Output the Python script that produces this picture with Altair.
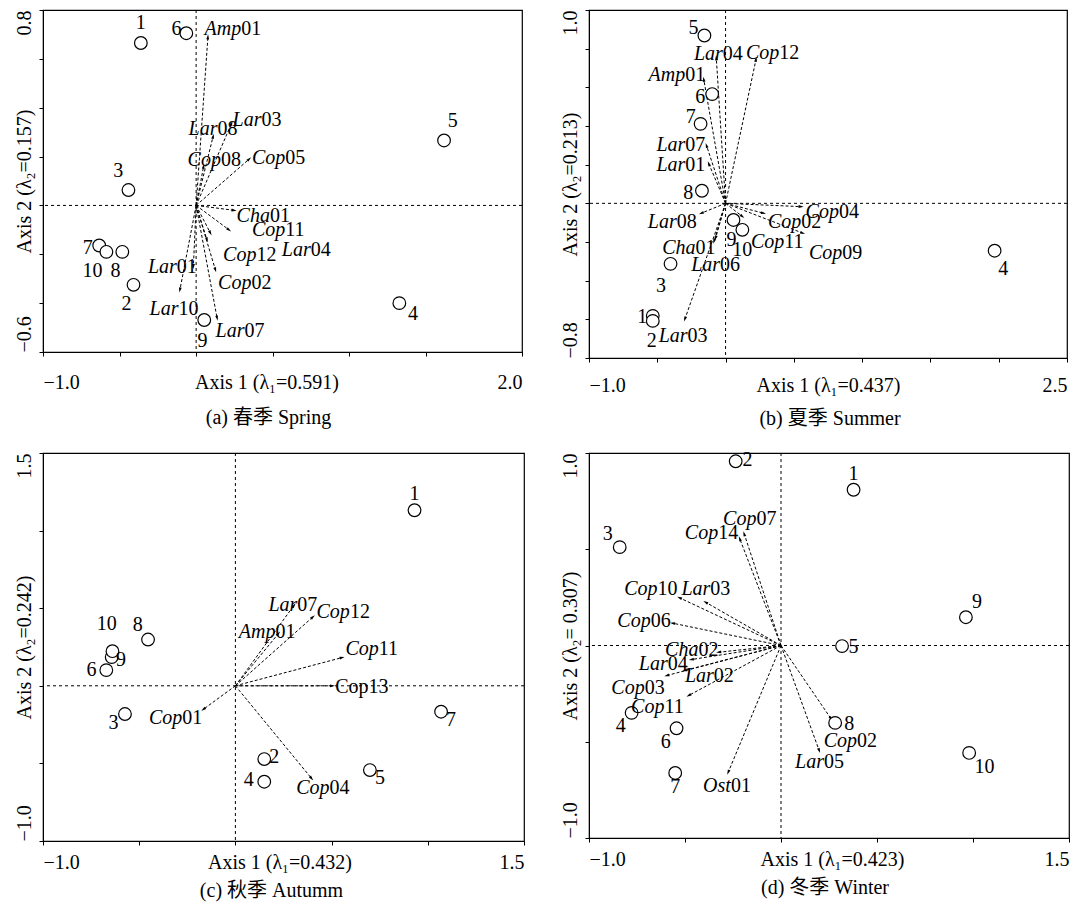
import math
import altair as alt
import pandas as pd

SERIF = "Liberation Serif"
CAPTION_FONT = "Liberation Serif, Noto Sans CJK SC"
HEAD = "M0,-1L0.55,1L-0.55,1Z"

SITE_IDS = ["1", "2", "3", "4", "5", "6", "7", "8", "9", "10"]

# ---------------- (a) Spring ----------------
a_site_x = [-0.361, -0.409, -0.442, 1.327, 1.619, -0.064, -0.633, -0.482, 0.053, -0.586]
a_site_y = [0.665, -0.325, 0.063, -0.400, 0.266, 0.705, -0.164, -0.190, -0.469, -0.190]
a_site_lx = [-0.361, -0.454, -0.509, 1.416, 1.675, -0.128, -0.708, -0.527, 0.042, -0.677]
a_site_ly = [0.747, -0.403, 0.139, -0.445, 0.344, 0.723, -0.175, -0.270, -0.557, -0.270]
a_species = ["Amp01", "Lar08", "Lar03", "Cop08", "Cop05", "Cha01", "Cop11", "Lar04",
             "Cop12", "Lar01", "Cop02", "Lar10", "Lar07"]
a_sp_x = [0.077, 0.111, 0.232, 0.049, 0.347, 0.248, 0.215, 0.093, 0.071, -0.018, 0.126, -0.106, 0.137]
a_sp_y = [0.690, 0.283, 0.337, 0.160, 0.190, -0.020, -0.100, -0.113, -0.141, -0.250, -0.264, -0.346, -0.462]
a_sp_lx = [0.294, 0.139, 0.427, 0.162, 0.582, 0.482, 0.582, 0.748, 0.394, -0.126, 0.361, -0.115, 0.316]
a_sp_ly = [0.723, 0.313, 0.351, 0.187, 0.194, -0.045, -0.100, -0.182, -0.202, -0.250, -0.318, -0.425, -0.516]
a_xdomain = [-1.0, 2.128]
a_ydomain = [-0.6, 0.8]
a_xticks = [-1.0, -0.5, 0.0, 0.5, 1.0, 1.5, 2.128]
a_yticks = [-0.6, -0.4, -0.2, 0.0, 0.2, 0.4, 0.6, 0.8]
a_xlabels = ["−1.0", "2.0"]
a_ylabels = ["−0.6", "0.8"]
a_xtitle = "Axis 1 (λ₁=0.591)"
a_ytitle = "Axis 2 (λ₂=0.157)"
a_caption = "(a) 春季 Spring"

# ---------------- (b) Summer ----------------
b_site_x = [-0.533, -0.533, -0.403, 1.970, -0.155, -0.098, -0.183, -0.173, 0.058, 0.123]
b_site_y = [-0.582, -0.608, -0.313, -0.245, 0.868, 0.565, 0.411, 0.065, -0.086, -0.137]
b_site_lx = [-0.610, -0.540, -0.473, 2.033, -0.235, -0.185, -0.255, -0.273, 0.043, 0.123]
b_site_ly = [-0.587, -0.711, -0.425, -0.342, 0.908, 0.548, 0.445, 0.051, -0.188, -0.243]
b_species = ["Lar04", "Cop12", "Amp01", "Lar07", "Lar01", "Lar08", "Cha01", "Lar06",
             "Lar03", "Cop04", "Cop02", "Cop11", "Cop09"]
b_sp_x = [-0.068, 0.223, -0.160, -0.140, -0.123, -0.178, -0.085, -0.073, -0.298, 0.553, 0.278, 0.123, 0.565]
b_sp_y = [0.753, 0.745, 0.642, 0.300, 0.205, -0.051, -0.197, -0.180, -0.599, -0.017, -0.051, -0.068, -0.154]
b_sp_lx = [-0.020, 0.393, -0.295, -0.295, -0.295, -0.358, -0.220, -0.040, -0.278, 0.830, 0.555, 0.430, 0.855]
b_sp_ly = [0.771, 0.779, 0.664, 0.300, 0.197, -0.099, -0.231, -0.317, -0.685, -0.043, -0.094, -0.202, -0.257]
b_xdomain = [-1.0, 2.5]
b_ydomain = [-0.8, 1.0]
b_xticks = [-1.0, -0.5, 0.0, 0.5, 1.0, 1.5, 2.0, 2.5]
b_yticks = [-0.8, -0.6, -0.4, -0.2, 0.0, 0.2, 0.4, 0.6, 0.8, 1.0]
b_xlabels = ["−1.0", "2.5"]
b_ylabels = ["−0.8", "1.0"]
b_xtitle = "Axis 1 (λ₁=0.437)"
b_ytitle = "Axis 2 (λ₂=0.213)"
b_caption = "(b) 夏季 Summer"

# ---------------- (c) Autumn ----------------
c_site_x = [0.931, 0.150, -0.574, 0.150, 0.699, -0.671, 1.069, -0.454, -0.643, -0.639]
c_site_y = [1.131, -0.472, -0.182, -0.618, -0.543, 0.101, -0.167, 0.298, 0.185, 0.223]
c_site_lx = [0.931, 0.202, -0.634, 0.069, 0.752, -0.748, 1.121, -0.507, -0.595, -0.669]
c_site_ly = [1.238, -0.457, -0.242, -0.607, -0.597, 0.105, -0.221, 0.391, 0.165, 0.401]
c_species = ["Lar07", "Cop12", "Amp01", "Cop11", "Cop13", "Cop01", "Cop04"]
c_sp_x = [0.305, 0.403, 0.224, 0.555, 0.505, -0.167, 0.396]
c_sp_y = [0.519, 0.444, 0.337, 0.182, 0.000, -0.152, -0.597]
c_sp_lx = [0.322, 0.595, 0.208, 0.745, 0.692, -0.276, 0.489]
c_sp_ly = [0.519, 0.476, 0.348, 0.240, -0.006, -0.210, -0.661]
c_upright = ["Cop13"]
c_xdomain = [-1.0, 1.5]
c_ydomain = [-1.0, 1.5]
c_xticks = [-1.0, -0.5, 0.0, 0.5, 1.0, 1.5]
c_yticks = [-1.0, -0.5, 0.0, 0.5, 1.0, 1.5]
c_xlabels = ["−1.0", "1.5"]
c_ylabels = ["−1.0", "1.5"]
c_xtitle = "Axis 1 (λ₁=0.432)"
c_ytitle = "Axis 2 (λ₂=0.242)"
c_caption = "(c) 秋季 Autumm"

# ---------------- (d) Winter ----------------
d_site_x = [0.378, -0.236, -0.840, -0.778, 0.318, -0.544, -0.551, 0.282, 0.963, 0.980]
d_site_y = [0.809, 0.957, 0.511, -0.350, -0.003, -0.430, -0.662, -0.402, 0.147, -0.558]
d_site_lx = [0.378, -0.174, -0.902, -0.835, 0.377, -0.600, -0.551, 0.355, 1.021, 1.060]
d_site_ly = [0.893, 0.962, 0.581, -0.419, -0.009, -0.503, -0.737, -0.407, 0.225, -0.633]
d_species = ["Cop07", "Cop14", "Cop10", "Lar03", "Cop06", "Cha02", "Lar04", "Lar02",
             "Cop03", "Cop11", "Ost01", "Lar05", "Cop02"]
d_sp_x = [-0.192, -0.215, -0.529, -0.393, -0.565, -0.325, -0.467, -0.503, -0.595, -0.481, -0.275, 0.199, 0.261]
d_sp_y = [0.581, 0.555, 0.248, 0.225, 0.116, -0.035, -0.073, -0.130, -0.156, -0.260, -0.659, -0.546, -0.381]
d_sp_lx = [-0.128, -0.327, -0.643, -0.368, -0.679, -0.430, -0.590, -0.350, -0.710, -0.607, -0.261, 0.224, 0.396]
d_sp_ly = [0.655, 0.586, 0.291, 0.291, 0.127, -0.021, -0.095, -0.156, -0.222, -0.321, -0.728, -0.607, -0.494]
d_xdomain = [-1.0, 1.5]
d_ydomain = [-1.0, 1.0]
d_xticks = [-1.0, -0.5, 0.0, 0.5, 1.0, 1.5]
d_yticks = [-1.0, -0.5, 0.0, 0.5, 1.0]
d_xlabels = ["−1.0", "1.5"]
d_ylabels = ["−1.0", "1.0"]
d_xtitle = "Axis 1  (λ₁=0.423)"
d_ytitle = "Axis 2 (λ₂= 0.307)"
d_caption = "(d) 冬季 Winter"


def end_label_expr(lo, hi, lab_lo, lab_hi):
    return (f"datum.value <= {lo + 1e-6} ? '{lab_lo}' : "
            f"(datum.value >= {hi - 1e-6} ? '{lab_hi}' : '')")


def end_align(lo):
    return {"condition": {"test": f"datum.value <= {lo + 1e-6}", "value": "left"},
            "value": "right"}


def panel(site_x, site_y, site_lx, site_ly, species, sp_x, sp_y, sp_lx, sp_ly,
          xdom, ydom, xticks, yticks, xlabs, ylabs, xtitle, ytitle, caption,
          width, height, upright=(), xtitle_dx=0, lab_y=29, cap_off=16, cap_dx=0):
    kx = width / (xdom[1] - xdom[0])
    ky = height / (ydom[1] - ydom[0])
    site_df = pd.DataFrame({"id": SITE_IDS, "x": site_x, "y": site_y,
                            "lx": site_lx, "ly": site_ly})
    sp_df = pd.DataFrame({"name": species, "tx": sp_x, "ty": sp_y,
                          "lx": sp_lx, "ly": sp_ly})
    sp_df["ox"] = 0.0
    sp_df["oy"] = 0.0
    sp_df["pre"] = sp_df["name"].str[:-2]
    sp_df["num"] = sp_df["name"].str[-2:]
    sp_df["ang"] = [(math.degrees(math.atan2(a * kx, b * ky)) + 360.0) % 360.0
                    for a, b in zip(sp_x, sp_y)]
    sp_df["it"] = [n not in upright for n in species]

    common = dict(grid=False, domainColor="black", tickColor="black", labelColor="black",
                  titleColor="black", labelFont=SERIF, labelFontSize=20, titleFont=SERIF,
                  titleFontSize=20, titleFontWeight="normal", tickSize=4, labelFlush=False,
                  labelOverlap=False, labelBound=False, domainWidth=1, tickWidth=1)
    xax = alt.Axis(values=xticks, title=xtitle,
                   labelExpr=end_label_expr(xdom[0], xdom[1], xlabs[0], xlabs[1]),
                   labelAlign=end_align(xdom[0]), labelBaseline="middle",
                   labelPadding=lab_y - 4, titleY=lab_y, titleX=width / 2 + xtitle_dx,
                   titleBaseline="middle", titleAlign="center", **common)
    yax = alt.Axis(values=yticks, title=ytitle,
                   labelExpr=end_label_expr(ydom[0], ydom[1], ylabs[0], ylabs[1]),
                   labelAlign=end_align(ydom[0]), labelBaseline="middle", labelAngle=270,
                   labelPadding=15, titleAngle=270, titleX=-19, titleY=height / 2,
                   titleBaseline="middle", titleAlign="center", **common)
    xs = alt.Scale(domain=xdom, nice=False, zero=False)
    ys = alt.Scale(domain=ydom, nice=False, zero=False)

    def X(f):
        return alt.X(f, type="quantitative", scale=xs, axis=xax)

    def Y(f):
        return alt.Y(f, type="quantitative", scale=ys, axis=yax)

    zero = pd.DataFrame({"z": [0.0]})
    vline = alt.Chart(zero).mark_rule(color="black", strokeDash=[3, 3], strokeWidth=1).encode(x=X("z"))
    hline = alt.Chart(zero).mark_rule(color="black", strokeDash=[3, 3], strokeWidth=1).encode(y=Y("z"))
    arrows = alt.Chart(sp_df).mark_rule(color="black", strokeDash=[3, 2], strokeWidth=1).encode(
        x=X("ox"), y=Y("oy"), x2="tx:Q", y2="ty:Q")
    heads = alt.Chart(sp_df).mark_point(shape=HEAD, filled=True, color="black", size=26,
                                        opacity=1).encode(
        x=X("tx"), y=Y("ty"), angle=alt.Angle("ang:Q", scale=None))
    circles = alt.Chart(site_df).mark_point(shape="circle", fill="white", fillOpacity=1,
                                            stroke="black", strokeWidth=1.2, size=160,
                                            opacity=1).encode(x=X("x"), y=Y("y"))
    site_txt = alt.Chart(site_df).mark_text(font=SERIF, fontSize=20, color="black",
                                            align="center", baseline="middle").encode(
        x=X("lx"), y=Y("ly"), text="id:N")
    pre_it = alt.Chart(sp_df).transform_filter("datum.it").mark_text(
        font=SERIF, fontSize=20, color="black", align="right", baseline="middle",
        fontStyle="italic").encode(x=X("lx"), y=Y("ly"), text="pre:N")
    pre_up = alt.Chart(sp_df).transform_filter("!datum.it").mark_text(
        font=SERIF, fontSize=20, color="black", align="right", baseline="middle").encode(
        x=X("lx"), y=Y("ly"), text="pre:N")
    nums = alt.Chart(sp_df).mark_text(font=SERIF, fontSize=20, color="black", align="left",
                                      baseline="middle").encode(
        x=X("lx"), y=Y("ly"), text="num:N")

    return alt.layer(vline, hline, arrows, heads, circles, site_txt, pre_it, pre_up, nums).properties(
        width=width, height=height,
        title=alt.TitleParams(text=caption, orient="bottom", frame="group", anchor="middle",
                              offset=cap_off, dx=cap_dx, font=CAPTION_FONT, fontSize=20,
                              fontWeight="normal", color="black"))


pa = panel(a_site_x, a_site_y, a_site_lx, a_site_ly, a_species, a_sp_x, a_sp_y, a_sp_lx, a_sp_ly,
           a_xdomain, a_ydomain, a_xticks, a_yticks, a_xlabels, a_ylabels, a_xtitle, a_ytitle,
           a_caption, 479, 342, xtitle_dx=-16, lab_y=30, cap_off=16, cap_dx=-14)
pb = panel(b_site_x, b_site_y, b_site_lx, b_site_ly, b_species, b_sp_x, b_sp_y, b_sp_lx, b_sp_ly,
           b_xdomain, b_ydomain, b_xticks, b_yticks, b_xlabels, b_ylabels, b_xtitle, b_ytitle,
           b_caption, 478, 348, xtitle_dx=0, lab_y=27, cap_off=14, cap_dx=2)
pc = panel(c_site_x, c_site_y, c_site_lx, c_site_ly, c_species, c_sp_x, c_sp_y, c_sp_lx, c_sp_ly,
           c_xdomain, c_ydomain, c_xticks, c_yticks, c_xlabels, c_ylabels, c_xtitle, c_ytitle,
           c_caption, 481, 388, upright=c_upright, xtitle_dx=-4, lab_y=21, cap_off=9, cap_dx=-12)
pd_ = panel(d_site_x, d_site_y, d_site_lx, d_site_ly, d_species, d_sp_x, d_sp_y, d_sp_lx, d_sp_ly,
            d_xdomain, d_ydomain, d_xticks, d_yticks, d_xlabels, d_ylabels, d_xtitle, d_ytitle,
            d_caption, 480, 385, xtitle_dx=3, lab_y=21, cap_off=9, cap_dx=-4)

chart = alt.concat(pa, pb, pc, pd_, columns=2, spacing={"row": 95, "column": 65},
                   bounds="flush").properties(
    padding={"left": 5, "top": 0, "right": 0, "bottom": 4}
).configure_view(stroke="black", strokeWidth=1.2)

chart.save("out.html", embed_options={"renderer": "svg", "actions": False})
